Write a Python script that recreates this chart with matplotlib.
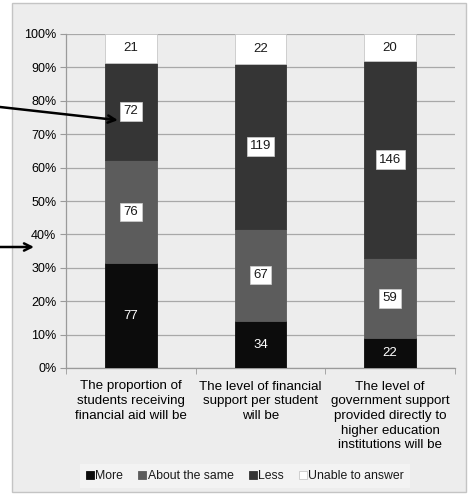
import numpy as np
import matplotlib
matplotlib.use("Agg")
import matplotlib.pyplot as plt
from matplotlib.patches import Rectangle, Patch, FancyArrowPatch

# ── Survey counts per question ────────────────────────────────────────────────
questions = [
    "The proportion of\nstudents receiving\nfinancial aid will be",
    "The level of financial\nsupport per student\nwill be",
    "The level of\ngovernment support\nprovided directly to\nhigher education\ninstitutions will be",
]
responses = ["More", "About the same", "Less", "Unable to answer"]
more = [77, 34, 22]
same = [76, 67, 59]
less = [72, 119, 146]
unable = [21, 22, 20]

colors = ["#0c0c0c", "#5c5c5c", "#353535", "#ffffff"]

plt.rcParams.update({
    "font.family": ["Liberation Sans", "DejaVu Sans"],
    "font.size": 9,
    "text.color": "#1a1a1a",
})

fig = plt.figure(figsize=(4.68, 4.95), dpi=100)

# grey panel behind the chart
fig.add_artist(Rectangle((12 / 468, 3 / 495), 454 / 468, 489 / 495,
                         transform=fig.transFigure, facecolor="#ededed",
                         edgecolor="#c4c4c4", linewidth=1.0, zorder=0))

ax = fig.add_axes([66 / 468, 1 - 368 / 495, 389 / 468, 334 / 495])
ax.set_facecolor("none")

counts = np.array([more, same, less, unable], dtype=float)
shares = counts / counts.sum(axis=0)
x = np.arange(len(questions))
bottom = np.zeros(len(questions))
for k, name in enumerate(responses):
    ax.bar(x, shares[k], 0.4, bottom=bottom, color=colors[k],
           edgecolor="#c8c8c8" if k == 3 else colors[k], linewidth=0.6,
           label=name, zorder=3)
    for i in range(len(questions)):
        mid = bottom[i] + shares[k][i] / 2
        label = f"{int(counts[k][i])}"
        if k == 0:
            ax.text(x[i], mid, label, ha="center", va="center",
                    color="white", fontsize=9.5, zorder=4)
        elif k == 3:
            ax.text(x[i], mid, label, ha="center", va="center",
                    color="#1a1a1a", fontsize=9.5, zorder=4)
        else:
            ax.text(x[i], mid, label, ha="center", va="center",
                    color="#1a1a1a", fontsize=9.5, zorder=4,
                    bbox=dict(boxstyle="square,pad=0.25", facecolor="white",
                              edgecolor="#d0d0d0", linewidth=0.5))
    bottom += shares[k]

ax.set_xlim(-0.5, 2.5)
ax.set_ylim(0, 1)
ax.set_yticks(np.linspace(0, 1, 11))
ax.set_yticklabels([f"{v}%" for v in range(0, 101, 10)], fontsize=9)
ax.yaxis.grid(True, color="#a8a8a8", linewidth=0.9, zorder=0)
ax.set_axisbelow(True)

ax.set_xticks(x)
ax.set_xticklabels(questions, fontsize=9.6, linespacing=1.3)
ax.set_xticks([-0.5, 0.5, 1.5, 2.5], minor=True)
ax.tick_params(axis="x", which="major", length=0, pad=9)
ax.tick_params(axis="x", which="minor", length=4, color="#9a9a9a")
ax.tick_params(axis="y", length=4, color="#9a9a9a", pad=3)

for side in ["top", "right"]:
    ax.spines[side].set_visible(False)
for side in ["left", "bottom"]:
    ax.spines[side].set_color("#9a9a9a")
    ax.spines[side].set_linewidth(0.9)

handles = [Patch(facecolor=c, edgecolor="#c8c8c8" if c == "#ffffff" else c,
                 linewidth=0.6) for c in colors]
leg = fig.legend(handles, responses, loc="center", ncol=4,
                 bbox_to_anchor=(245 / 468, 1 - 476 / 495),
                 frameon=True, fancybox=False, facecolor="#f3f3f3",
                 edgecolor="none", framealpha=1, fontsize=8.8,
                 handlelength=0.65, handleheight=0.65, handletextpad=0.1,
                 columnspacing=1.25, borderpad=0.5)

# pointer arrows coming in from the left margin
ax.annotate("", xy=(-0.1, 0.742), xycoords="data",
            xytext=(0, 495 - 107), textcoords="figure pixels",
            arrowprops=dict(arrowstyle="->", color="black", lw=1.8,
                            mutation_scale=13, shrinkA=0, shrinkB=0),
            annotation_clip=False, zorder=6)
fig.add_artist(FancyArrowPatch(
    (0, 248), (34, 248), transform=None, arrowstyle="->", color="black",
    lw=1.8, mutation_scale=13, shrinkA=0, shrinkB=0, zorder=6))

fig.savefig("out.png", dpi=100)
